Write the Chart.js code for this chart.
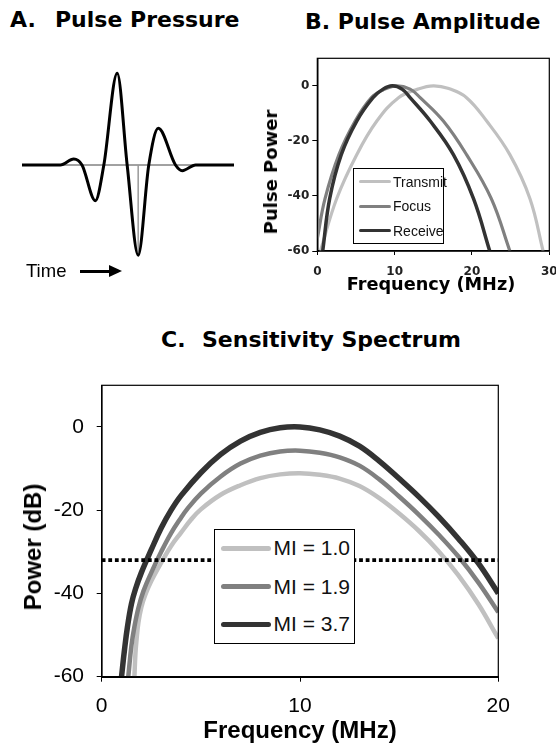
<!DOCTYPE html>
<html>
<head>
<meta charset="utf-8">
<script src="https://cdn.jsdelivr.net/npm/chart.js@4.4.1/dist/chart.umd.min.js"></script>
<style>
    html, body { margin: 0; padding: 0; background: #fff; }
    body { width: 556px; height: 750px; position: relative; overflow: hidden; font-family: "Liberation Sans", Arial, sans-serif; color: #000; }
    .holder { position: absolute; }
    .txt { position: absolute; white-space: nowrap; line-height: 1; }
    .head { font-family: "DejaVu Sans", Verdana, sans-serif; font-weight: bold; font-size: 22px; }
    .rot { transform: translate(-50%, -50%) rotate(-90deg); }
    .mid { transform: translate(-50%, -50%); }
    .legend { position: absolute; background: #fff; border: 1px solid #000; box-sizing: border-box; }
    .legend .row { position: absolute; left: 0; right: 0; height: 0; }
    .legend .swatch { position: absolute; border-radius: 3px; }
    .legend .label { position: absolute; white-space: nowrap; line-height: 1; transform: translateY(-50%); color: #111; }
    .arrow-shaft { position: absolute; left: 80px; top: 270px; width: 32px; height: 2.5px; background: #000; }
    .arrow-head { position: absolute; left: 109px; top: 265px; width: 0; height: 0; border-top: 6.5px solid transparent; border-bottom: 6.5px solid transparent; border-left: 13px solid #000; }
</style>
</head>
<body>

<div class="txt head" style="left:10px; top:9px;">A.</div>
<div class="txt head" style="left:55px; top:9px;">Pulse Pressure</div>
<div class="txt head" style="left:305px; top:11px;">B. Pulse Amplitude</div>
<div class="txt head" style="left:161px; top:329px;">C.</div>
<div class="txt head" style="left:202px; top:329px;">Sensitivity Spectrum</div>

<div class="holder" style="left:22px; top:64px; width:212px; height:202px;"><canvas id="pulseChart"></canvas></div>
<div class="txt" style="left:26px; top:262px; font-size:18.5px;">Time</div>
<div class="arrow-shaft"></div>
<div class="arrow-head"></div>

<div class="holder" style="left:255px; top:40px; width:320px; height:260px;"><canvas id="amplitudeChart"></canvas></div>
<div class="txt rot" style="left:271px; top:172px; font-family:'DejaVu Sans', Verdana, sans-serif; font-weight:bold; font-size:18px;">Pulse Power</div>
<div class="txt mid" style="left:431px; top:285px; font-family:'DejaVu Sans', Verdana, sans-serif; font-weight:bold; font-size:17.7px;">Frequency (MHz)</div>
<div class="legend" id="amplitudeLegend" style="left:353px; top:168px; width:91px; height:76px;"></div>

<div class="holder" style="left:0px; top:360px; width:556px; height:390px;"><canvas id="sensitivityChart"></canvas></div>
<div class="txt rot" style="left:33px; top:547px; font-weight:bold; font-size:24px;">Power (dB)</div>
<div class="txt mid" style="left:300px; top:730px; font-weight:bold; font-size:24px;">Frequency (MHz)</div>
<div class="legend" id="sensitivityLegend" style="left:214px; top:529px; width:141px; height:115px;"></div>

<script>
// A. pulse waveform (arbitrary time units, amplitude normalised to the main peak)
const waveTime = [0, 18.1, 24.4, 28.3, 34.6, 38.6, 44.9, 49.6, 54.8, 59.8, 64.3, 72.4, 75.6, 81.9, 100];
const waveAmp = [0, 0, 0.065, 0, -0.389, 0, 1.0, 0, -0.982, 0, 0.4, 0, -0.062, 0, 0];
const baseTime = [0, 100];
const baseAmp = [0, 0];
const markerTime = [54.8, 54.8];
const markerAmp = [0, -0.982];

// B. pulse amplitude spectra
const bSeriesNames = ['Transmit', 'Focus', 'Receive'];
const transmitFreq = [0.4, 2.5, 5.1, 7.7, 10.5, 13, 15, 17, 19.3, 21.9, 24.9, 27.5, 29.2];
const transmitPower = [-60, -41, -25, -12.8, -4.3, -1.2, 0, -1.0, -4.3, -12.8, -25, -41, -60];
const focusFreq = [0, 1.0, 2.8, 4.9, 7.0, 8.5, 10.2, 12, 13.3, 16.3, 19.3, 22.5, 24.9];
const focusPower = [-55.5, -41, -25, -12.8, -4.3, -1.5, 0, -1.2, -4.3, -12.8, -25, -41, -60];
const receiveFreq = [0.7, 1.6, 3.1, 5.1, 7.2, 8.5, 9.7, 11, 12, 14.6, 17.6, 20.2, 22.3];
const receivePower = [-60, -41, -25, -12.8, -4.3, -1.2, 0, -1.3, -4.3, -12.8, -25, -41, -60];
const bTicksX = [0, 10, 20, 30];
const bTicksY = [-60, -40, -20, 0];

// C. sensitivity spectra
const cSeriesNames = ['MI = 1.0', 'MI = 1.9', 'MI = 3.7'];
const mi10Freq = [1.65, 1.7, 1.75, 1.85, 2, 2.2, 2.5, 3, 3.5, 4, 4.5, 5, 6, 7, 8, 9, 10, 11, 12, 13, 14, 15, 16, 17, 18, 19, 20];
const mi10Power = [-60, -54.5, -51.5, -47, -43.3, -40.3, -37, -32.6, -28.6, -25.4, -22.3, -19.8, -16.3, -14, -12.3, -11.4, -11.1, -11.5, -12.4, -14.2, -17.1, -20.8, -25, -29.9, -35.7, -42.6, -50.8];
const mi19Freq = [1.34, 1.5, 1.65, 1.85, 2.1, 2.5, 3, 3.5, 4, 4.3, 5, 6, 7, 8, 9, 10, 11, 12, 13, 14, 15, 16, 17, 18, 19, 20];
const mi19Power = [-60, -52.5, -48, -43.5, -39.5, -35, -30, -25.5, -21.8, -19.8, -16, -11.9, -8.8, -6.9, -5.9, -5.7, -6.2, -7.3, -9.3, -12.6, -16.7, -21.1, -25.9, -31.2, -37.4, -44.5];
const mi37Freq = [1.0, 1.15, 1.3, 1.5, 1.7, 2, 2.5, 3, 3.5, 4, 5, 6, 7, 8, 9, 10, 11, 12, 13, 14, 15, 16, 17, 18, 19, 20];
const mi37Power = [-60, -53.5, -48, -42.5, -39, -35, -29.5, -24.3, -20, -16.5, -11, -6.6, -3.4, -1.3, -0.2, 0, -0.7, -2.2, -4.6, -8.2, -12.4, -16.8, -21.6, -26.9, -32.8, -40];
const thresholdFreq = [0, 20];
const thresholdPower = [-32, -32];
const cTicksX = [0, 10, 20];
const cTicksY = [-60, -40, -20, 0];

const LIGHT = '#c0c0c0';
const MEDIUM = '#808080';
const DARK = '#333333';

function toPoints(xs, ys) {
    return xs.map((x, i) => ({ x: x, y: ys[i] }));
}

// draws the box round the plot area
const framePlugin = {
    id: 'frame',
    afterDatasetsDraw(chart, args, opts) {
        if (!opts.width) return;
        const a = chart.chartArea;
        const ctx = chart.ctx;
        ctx.save();
        ctx.strokeStyle = opts.color || '#000';
        ctx.lineWidth = opts.width;
        ctx.strokeRect(a.left, a.top, a.right - a.left, a.bottom - a.top);
        ctx.restore();
    }
};

function curve(data, color, width, order) {
    return {
        data: data,
        borderColor: color,
        borderWidth: width,
        pointRadius: 0,
        tension: 0.4,
        borderJoinStyle: 'round',
        fill: false,
        order: order
    };
}

document.addEventListener('DOMContentLoaded', function () {
    Chart.defaults.animation = false;
    Chart.defaults.devicePixelRatio = 1;
    createPulseChart();
    createAmplitudeChart();
    createSensitivityChart();
    buildLegend('amplitudeLegend', bSeriesNames, [LIGHT, MEDIUM, DARK],
        { rows: [12.7, 37.4, 61.7], x0: 5, x1: 37, lineWidth: 3.5, textX: 39, font: '14px "Liberation Sans", Arial, sans-serif' });
    buildLegend('sensitivityLegend', cSeriesNames, [LIGHT, MEDIUM, DARK],
        { rows: [18, 56.5, 94], x0: 6, x1: 56, lineWidth: 5, textX: 58.5, font: '21px "Liberation Sans", Arial, sans-serif' });
});

function createPulseChart() {
    const ctx = document.getElementById('pulseChart').getContext('2d');
    new Chart(ctx, {
        type: 'line',
        data: {
            datasets: [
                { data: toPoints(waveTime, waveAmp), borderColor: '#000', borderWidth: 3, pointRadius: 0,
                  cubicInterpolationMode: 'monotone', clip: false, order: 0 },
                { data: toPoints(markerTime, markerAmp), borderColor: '#999', borderWidth: 1.5, pointRadius: 0, order: 1 },
                { data: toPoints(baseTime, baseAmp), borderColor: '#444', borderWidth: 1, pointRadius: 0, order: 2 }
            ]
        },
        options: {
            responsive: true,
            maintainAspectRatio: false,
            layout: { padding: 0 },
            plugins: { legend: { display: false }, tooltip: { enabled: false } },
            scales: {
                x: { type: 'linear', min: 0, max: 100, display: false },
                y: { min: -1.1, max: 1.1, display: false }
            }
        }
    });
}

function createAmplitudeChart() {
    const ctx = document.getElementById('amplitudeChart').getContext('2d');
    const tickFont = { family: '"DejaVu Sans", Verdana, sans-serif', size: 12, weight: 'bold' };
    new Chart(ctx, {
        type: 'line',
        data: {
            datasets: [
                curve(toPoints(transmitFreq, transmitPower), LIGHT, 3.2, 2),
                curve(toPoints(focusFreq, focusPower), MEDIUM, 3.2, 1),
                curve(toPoints(receiveFreq, receivePower), DARK, 3.5, 0)
            ]
        },
        options: {
            responsive: true,
            maintainAspectRatio: false,
            layout: { padding: { left: 0, right: 25.7, top: 18.3, bottom: 19 } },
            plugins: { legend: { display: false }, tooltip: { enabled: false }, frame: { width: 1.2, color: '#000' } },
            scales: {
                x: {
                    type: 'linear', min: 0, max: 30,
                    afterFit: s => { s.height = 30; },
                    afterBuildTicks: s => { s.ticks = bTicksX.map(v => ({ value: v })); },
                    grid: { drawOnChartArea: false, tickLength: 4, color: '#000' },
                    border: { color: '#000', width: 1.5 },
                    ticks: { font: tickFont, color: '#222', padding: 9.5, maxRotation: 0 }
                },
                y: {
                    min: -60, max: 10,
                    afterFit: s => { s.width = 62.3; },
                    afterBuildTicks: s => { s.ticks = bTicksY.map(v => ({ value: v })); },
                    grid: { drawOnChartArea: false, tickLength: 5, color: '#000' },
                    border: { color: '#000', width: 1.5 },
                    ticks: { font: tickFont, color: '#222', padding: 3 }
                }
            }
        },
        plugins: [framePlugin]
    });
}

function createSensitivityChart() {
    const ctx = document.getElementById('sensitivityChart').getContext('2d');
    const tickFont = { family: '"Liberation Sans", Arial, sans-serif', size: 21 };
    new Chart(ctx, {
        type: 'line',
        data: {
            datasets: [
                { data: toPoints(thresholdFreq, thresholdPower), borderColor: '#000', borderWidth: 3.8, borderDash: [3.8, 2.8], pointRadius: 0, order: 0 },
                curve(toPoints(mi37Freq, mi37Power), DARK, 5.5, 1),
                curve(toPoints(mi19Freq, mi19Power), MEDIUM, 4.5, 2),
                curve(toPoints(mi10Freq, mi10Power), LIGHT, 4.5, 3)
            ]
        },
        options: {
            responsive: true,
            maintainAspectRatio: false,
            layout: { padding: { left: 0, right: 57.7, top: 20, bottom: 28.3 } },
            plugins: { legend: { display: false }, tooltip: { enabled: false }, frame: { width: 1.2, color: '#000' } },
            scales: {
                x: {
                    type: 'linear', min: 0, max: 20,
                    afterFit: s => { s.height = 45; },
                    afterBuildTicks: s => { s.ticks = cTicksX.map(v => ({ value: v })); },
                    grid: { drawOnChartArea: false, tickLength: 5, color: '#000' },
                    border: { color: '#000', width: 2 },
                    ticks: { font: tickFont, color: '#000', padding: 12.4, maxRotation: 0 }
                },
                y: {
                    min: -60, max: 10,
                    afterFit: s => { s.width = 101.7; },
                    afterBuildTicks: s => { s.ticks = cTicksY.map(v => ({ value: v })); },
                    grid: { drawOnChartArea: false, tickLength: 5, color: '#000' },
                    border: { color: '#000', width: 1.5 },
                    ticks: { font: tickFont, color: '#000', padding: 12.7 }
                }
            }
        },
        plugins: [framePlugin]
    });
}

// HTML legend placed inside the plot like the original
function buildLegend(id, names, colors, cfg) {
    const box = document.getElementById(id);
    names.forEach((name, i) => {
        const row = document.createElement('div');
        row.className = 'row';
        row.style.top = cfg.rows[i] + 'px';

        const swatch = document.createElement('div');
        swatch.className = 'swatch';
        swatch.style.left = cfg.x0 + 'px';
        swatch.style.width = (cfg.x1 - cfg.x0) + 'px';
        swatch.style.height = cfg.lineWidth + 'px';
        swatch.style.top = (-cfg.lineWidth / 2) + 'px';
        swatch.style.background = colors[i];
        row.appendChild(swatch);

        const label = document.createElement('div');
        label.className = 'label';
        label.style.left = cfg.textX + 'px';
        label.style.font = cfg.font;
        label.textContent = name;
        row.appendChild(label);

        box.appendChild(row);
    });
}
</script>
</body>
</html>
